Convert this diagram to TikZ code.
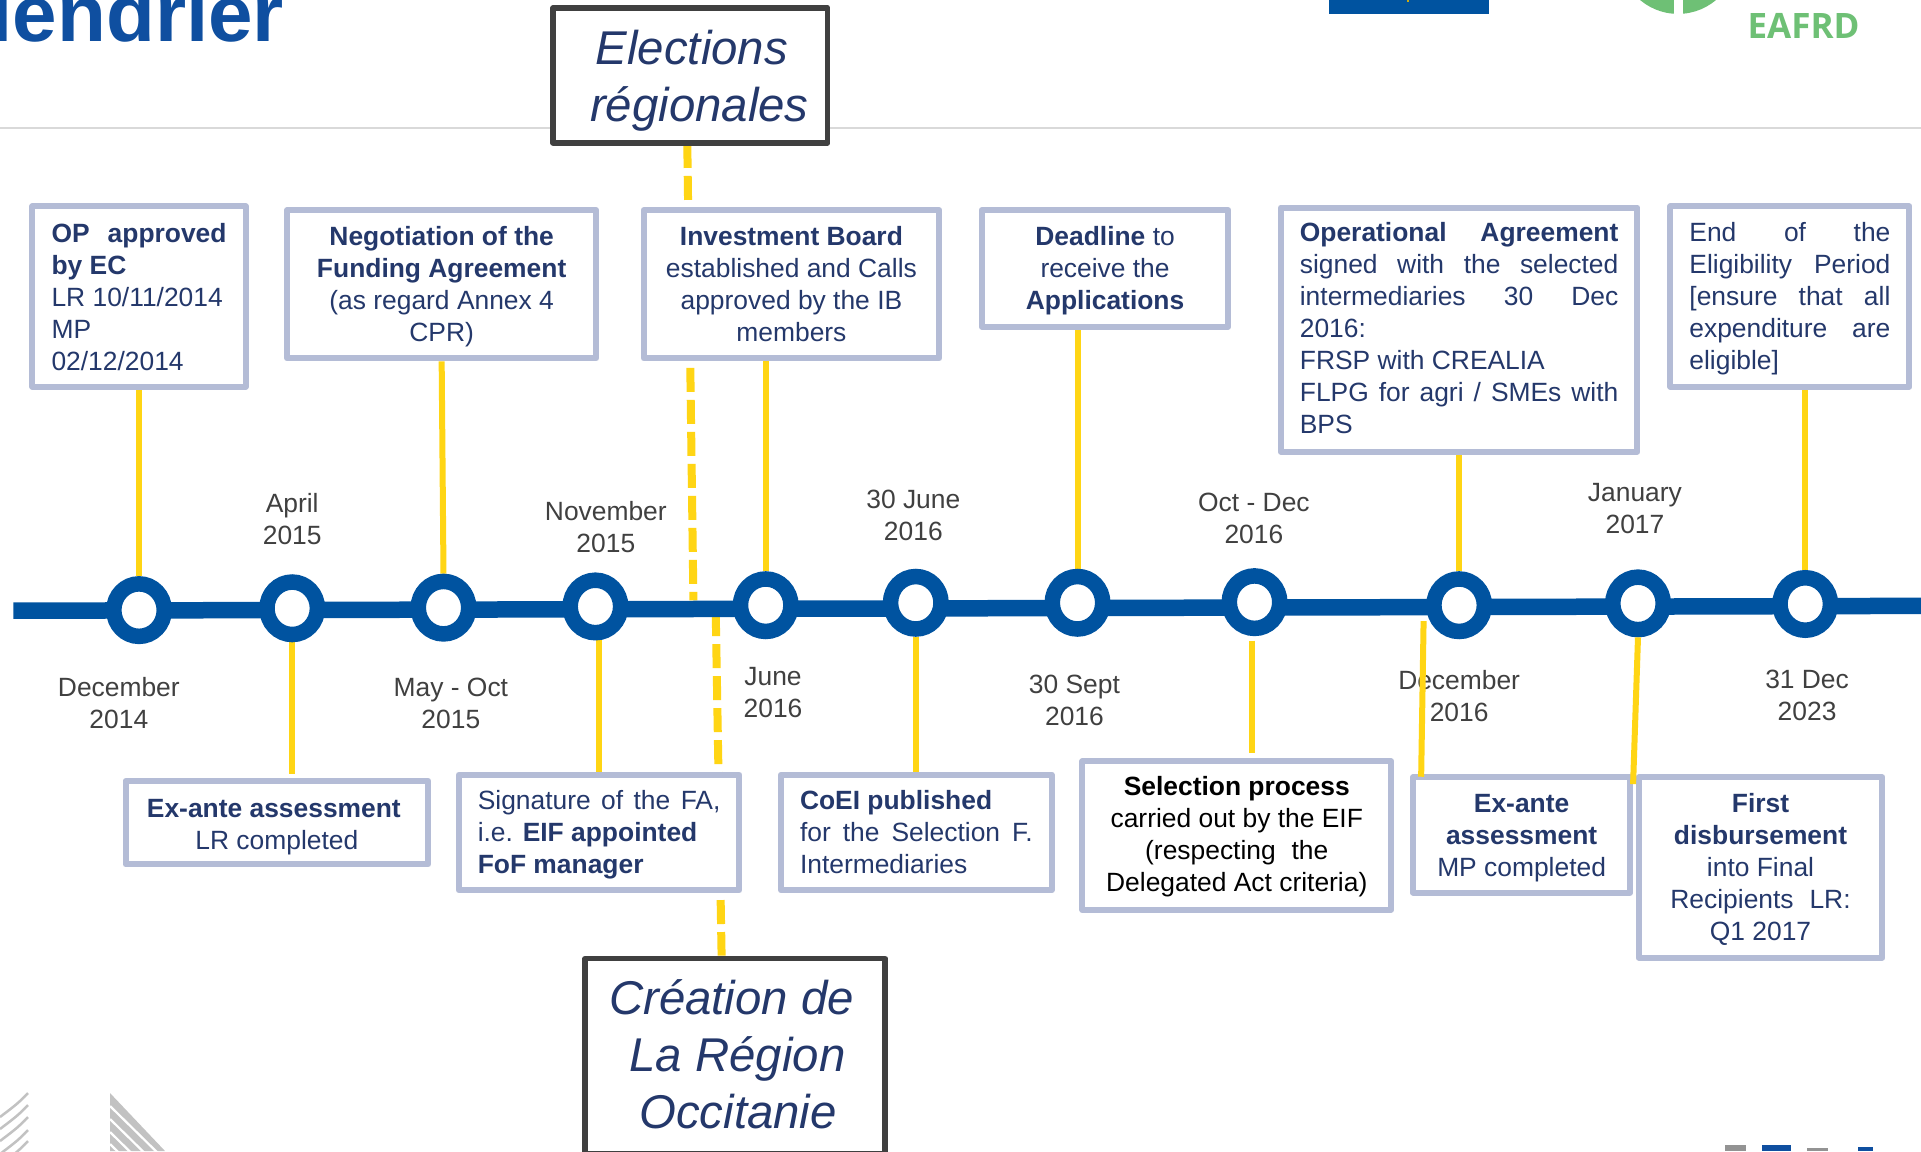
\documentclass[tikz,border=0pt]{standalone}
\usepackage{fontspec}
\setmainfont{Liberation Sans}
\newfontfamily\eafrdfont{Open Sans}
\usetikzlibrary{shapes.geometric,backgrounds}
\definecolor{navy}{HTML}{24386B}
\definecolor{frame}{HTML}{B4BCD6}
\definecolor{dark}{HTML}{404040}
\definecolor{tlblue}{HTML}{0053A0}
\definecolor{gold}{HTML}{FFD514}
\definecolor{titleblue}{HTML}{0F4FA0}
\definecolor{eagreen}{HTML}{6EC075}
\definecolor{rule}{HTML}{D9D9D9}
\definecolor{logogray}{HTML}{C2C2C2}
\tikzset{
  x=1.2251pt,y=-1.2251pt,
  txt/.style={font=\fontsize{26.4}{32}\selectfont,inner sep=0pt},
  infobox/.style={txt,draw=frame,line width=6pt,line join=round,fill=white,text=navy,align=center},
  infoleft/.style={infobox,align=left},
  infoblack/.style={infobox,text=black},
  bigbox/.style={draw=dark,line width=5.5pt,line join=round,fill=white,text=navy,align=center,inner sep=0pt,
     font=\fontsize{47.4}{57}\selectfont\itshape},
  datelabel/.style={txt,text=dark,align=center},
  dot/.style={ellipse,draw=tlblue,line width=15.5pt,fill=white,minimum width=50.5pt,minimum height=52.5pt,inner sep=0pt},
  tline/.style={draw=tlblue,line width=16.5pt},
  conn/.style={draw=gold,line width=6pt},
  dconn/.style={draw=gold,line width=8pt,dash pattern=on 24pt off 8pt},
}
\newcommand\bxn[7]{%
  \pgfmathsetmacro\myw{(#5-#3)*1.2251-6}%
  \pgfmathsetmacro\myh{(#6-#4)*1.2251-6}%
  \node[#1,minimum width=\myw pt,minimum height=\myh pt] (#2) at ({(#3+#5)/2},{(#4+#6)/2}) {#7};}
\newcommand\jl[2]{\hbox to #1pt{#2}}
\newcommand\gp{\hfill}
% push a box's text block down by #1 pt (taller first line)
\newcommand\dn[1]{\rule{0pt}{\dimexpr 19.5pt+2\dimexpr #1pt\relax\relax}}
\begin{document}
\begin{tikzpicture}
\useasboundingbox (0,0) rectangle (1568,939.5);
\clip (0,0) rectangle (1568,939.5);
\begin{pgfonlayer}{background}
\fill[white] (0,0) rectangle (1568,939.5);
\end{pgfonlayer}
% page furniture
\coordinate (ruleL) at (0,104.5);
\coordinate (ruleR) at (1568,104.5);
\draw[rule,line width=2.5pt] (ruleL) -- (ruleR);
\node[font=\fontsize{80}{80}\selectfont\bfseries,text=titleblue,anchor=base east,inner sep=0pt] (title) at (232,33.5) {lendrier};
\begin{scope}[x=1pt,y=-1pt]
  \fill[tlblue] (1329,-5) rectangle (1489,14);
  \fill[eagreen] (1678,-44.9) circle[radius=58.8pt];
  \fill[white] (1673.5,-5) rectangle (1682.5,20);
  \fill[gold!80!black] (1407,0) rectangle (1409,1.5);
  \node[font=\eafrdfont\fontsize{35}{35}\selectfont\bfseries,text=eagreen,anchor=base,inner sep=0pt] (eafrd) at (1803.5,38.5) {EAFRD};
  % bottom-left logo fragments
  \foreach \yy in {1093,1105,1117,1130,1141}
    \draw[logogray,line width=2.5pt] (28,\yy) .. controls (18,\yy+11) and (9,\yy+17) .. (0,\yy+24);
  \fill[logogray] (110,1093) -- (165,1151) -- (110,1151) -- cycle;
  \foreach \yy in {1106,1119,1132,1144}
    \draw[white,line width=2.2pt] (110,\yy) -- (165,\yy+54);
  % bottom-right logo fragments
  \fill[gray!85] (1725,1145) rectangle (1746,1151);
  \fill[titleblue] (1762,1145) rectangle (1791,1151);
  \fill[gray!85] (1807,1148) rectangle (1828,1151);
  \fill[titleblue] (1858,1147) rectangle (1873,1151);
\end{scope}
% timeline dots
\node[dot] (c1) at (113.5,498) {};
\node[dot] (c2) at (238.5,496.5) {};
\node[dot] (c3) at (362,496) {};
\node[dot] (c4) at (486,495) {};
\node[dot] (c5) at (625,494) {};
\node[dot] (c6) at (747.5,492) {};
\node[dot] (c7) at (879.5,492) {};
\node[dot] (c8) at (1024,491.5) {};
\node[dot] (c9) at (1191,494) {};
\node[dot] (c10) at (1337,492.5) {};
\node[dot] (c11) at (1473.5,493) {};
\coordinate (tl0) at (11,498.5);
\coordinate (tl1) at (1580,494.5);
% upper boxes
\bxn{infoleft}{op}{24}{166}{203}{318}{\dn{0.5}\jl{175}{\textbf{OP}\gp\textbf{approved}}\\\textbf{by EC}\\LR 10/11/2014\\MP\\02/12/2014}
\bxn{infobox}{neg}{232}{169}{489}{295}{\dn{2}\textbf{Negotiation of the}\\\textbf{Funding Agreement}\\(as regard Annex 4\\CPR)}
\bxn{infobox}{inv}{523}{169}{769}{295}{\textbf{Investment Board}\\established and Calls\\approved by the IB\\members}
\bxn{infobox}{dead}{799}{169}{1005}{269}{\dn{2}\textbf{Deadline} to\\receive the\\\textbf{Applications}}
\bxn{infoleft}{oper}{1043}{167}{1339}{371}{\jl{318.5}{\textbf{Operational}\gp\textbf{Agreement}}\\\jl{318.5}{signed\gp with\gp the\gp selected}\\\jl{318.5}{intermediaries\gp 30\gp Dec}\\2016:\\FRSP with CREALIA\\\jl{318.5}{FLPG for agri / SMEs with}\\BPS\rule[-4pt]{0pt}{1pt}}
\bxn{infoleft}{endp}{1361}{166}{1561}{318}{\dn{2.5}\jl{201}{End\gp of\gp the}\\\jl{201}{Eligibility\gp Period}\\\jl{201}{[ensure\gp that\gp all}\\\jl{201}{expenditure\gp are}\\eligible]}
% lower boxes
\bxn{infobox}{exl}{100}{635}{352}{708}{\dn{3.5}\hbox{\textbf{Ex-ante assessment}\kern6pt}\\LR completed}
\bxn{infoleft}{sig}{372}{630}{606}{729}{\dn{2.5}\jl{242.6}{Signature\gp of\gp the\gp FA,}\\i.e. \textbf{EIF appointed}\\\textbf{FoF manager}}
\bxn{infoleft}{coei}{635}{630}{861}{729}{\textbf{CoEI published}\\\jl{232.8}{for\gp the\gp Selection\gp F.}\\Intermediaries}
\bxn{infoblack}{sel}{881}{619}{1138}{745}{\dn{1}\textbf{Selection process}\\carried out by the EIF\\(respecting\hspace{0.6em}the\\Delegated Act criteria)}
\bxn{infobox}{exm}{1151}{632}{1333}{731}{\dn{2.5}\textbf{Ex-ante}\\\textbf{assessment}\\MP completed}
\bxn{infobox}{first}{1335}{632}{1539}{784}{\dn{2}\textbf{First}\\\textbf{disbursement}\\into Final\\Recipients\hspace{0.6em}LR:\\Q1 2017}
% event boxes
\bxn{bigbox}{ele}{449}{4}{678}{119}{\rule{0pt}{45pt}\hspace{3pt}Elections\\\hspace{18pt}régionales}
\bxn{bigbox}{cre}{475}{780}{725}{944}{\hspace{-7pt}Création de\\\hspace{5pt}La Région\\\hspace{6pt}Occitanie\rule[-5pt]{0pt}{1pt}}
% dates
\node[datelabel] (d1) at (97,574) {December\\2014};
\node[datelabel] (d2) at (238.5,424) {April\\2015};
\node[datelabel] (d3) at (368,574) {May - Oct\\2015};
\node[datelabel] (d4) at (494.5,430.5) {November\\2015};
\node[datelabel] (d5) at (631,565.5) {June\\2016};
\node[datelabel] (d6) at (745.5,421) {30 June\\2016};
\node[datelabel] (d7) at (877,572) {30 Sept\\2016};
\node[datelabel] (d8) at (1023.5,423) {Oct - Dec\\2016};
\node[datelabel] (d9) at (1191,568) {December\\2016};
\node[datelabel] (d10) at (1334.5,415) {January\\2017};
\node[datelabel] (d11) at (1475,568) {31 Dec\\2023};
% connectors behind boxes
\coordinate (elT) at (561,117.5);
\coordinate (elB) at (566,490);
\coordinate (crT) at (584.2,499.6);
\coordinate (crB) at (589,780);
\coordinate (selT) at (1022,523);
\coordinate (selB) at (1022,615);
\coordinate (exlT) at (238.5,632);
\begin{pgfonlayer}{background}
  \draw[dconn] (elT) -- (elB);
  \draw[dconn] (crT) -- (crB);
  \draw[conn] (op.south) -- (c1.north);
  \draw[conn] (c2.south) -- (exlT);
  \draw[conn] (neg.south) -- (c3.north);
  \draw[conn] (c4.south -| sig.north) -- (sig.north);
  \draw[conn] (inv.south -| c5.north) -- (c5.north);
  \draw[conn] (c6.south) -- (coei.north -| c6.south);
  \draw[conn] (dead.south -| c7.north) -- (c7.north);
  \draw[conn] (selT) -- (selB);
  \draw[conn] (oper.south -| c9.north) -- (c9.north);
  \draw[conn] (endp.south -| c11.north) -- (c11.north);
  \draw[tline] (tl0) -- (tl1);
\end{pgfonlayer}
% connectors on top
\coordinate (decT) at (1162,507);
\coordinate (decB) at (1160,634);
\coordinate (janB) at (1333,640);
\draw[conn] (decT) -- (decB);
\draw[conn] (c10.south) -- (janB);
\end{tikzpicture}
\end{document}
